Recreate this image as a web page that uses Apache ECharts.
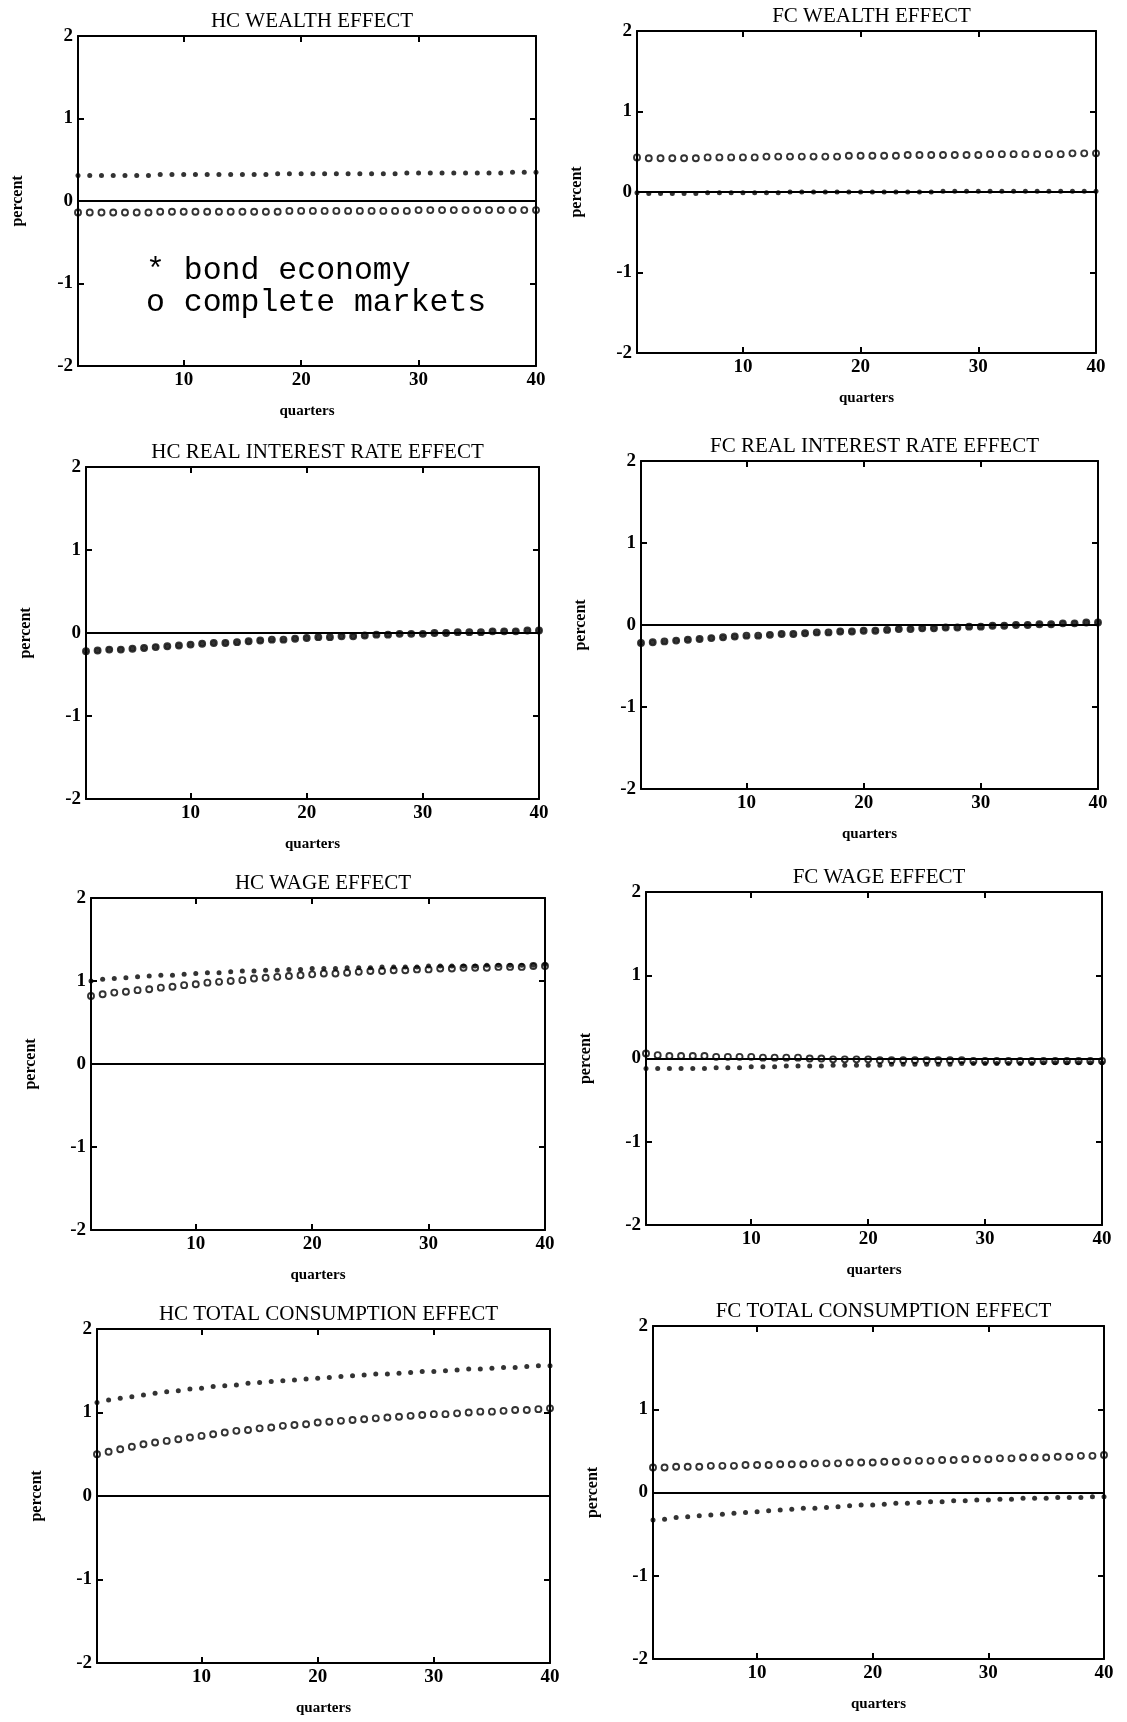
<!DOCTYPE html>
<html>
<head>
<meta charset="utf-8">
<title>Consumption effects</title>
<script src="https://cdn.jsdelivr.net/npm/echarts@6/dist/echarts.min.js"></script>
<style>
  html, body { margin: 0; padding: 0; background: #fff; }
  #chart { width: 1127px; height: 1722px; }
</style>
</head>
<body>
<div id="chart"></div>
<script>
// x: quarters after the shock
const quarters = [1, 2, 3, 4, 5, 6, 7, 8, 9, 10, 11, 12, 13, 14, 15, 16, 17, 18, 19, 20,
  21, 22, 23, 24, 25, 26, 27, 28, 29, 30, 31, 32, 33, 34, 35, 36, 37, 38, 39, 40];
const xTickValues = [10, 20, 30, 40];

const titles = [
  "HC WEALTH EFFECT", "FC WEALTH EFFECT",
  "HC REAL INTEREST RATE EFFECT", "FC REAL INTEREST RATE EFFECT",
  "HC WAGE EFFECT", "FC WAGE EFFECT",
  "HC TOTAL CONSUMPTION EFFECT", "FC TOTAL CONSUMPTION EFFECT"
];

// * bond economy / o complete markets, percent
const hcWealthBond = [0.31, 0.31, 0.31, 0.31, 0.31, 0.31, 0.31, 0.32, 0.32, 0.32, 0.32, 0.32, 0.32, 0.32, 0.32, 0.32, 0.32, 0.33, 0.33, 0.33,
  0.33, 0.33, 0.33, 0.33, 0.33, 0.33, 0.33, 0.33, 0.34, 0.34, 0.34, 0.34, 0.34, 0.34, 0.34, 0.34, 0.34, 0.35, 0.35, 0.35];
const hcWealthComplete = [-0.14, -0.14, -0.14, -0.14, -0.14, -0.14, -0.14, -0.13, -0.13, -0.13, -0.13, -0.13, -0.13, -0.13, -0.13, -0.13, -0.13, -0.13, -0.12, -0.12,
  -0.12, -0.12, -0.12, -0.12, -0.12, -0.12, -0.12, -0.12, -0.12, -0.11, -0.11, -0.11, -0.11, -0.11, -0.11, -0.11, -0.11, -0.11, -0.11, -0.11];

const fcWealthBond = [-0.01, -0.02, -0.02, -0.02, -0.02, -0.02, -0.01, -0.01, -0.01, -0.01, -0.01, -0.01, -0.01, 0, 0, 0, 0, 0, 0, 0,
  0, 0, 0, 0, 0, 0, 0.01, 0.01, 0.01, 0.01, 0.01, 0.01, 0.01, 0.01, 0.01, 0.01, 0.01, 0.01, 0.01, 0.01];
const fcWealthComplete = [0.43, 0.42, 0.42, 0.42, 0.42, 0.42, 0.43, 0.43, 0.43, 0.43, 0.43, 0.44, 0.44, 0.44, 0.44, 0.44, 0.44, 0.44, 0.45, 0.45,
  0.45, 0.45, 0.45, 0.46, 0.46, 0.46, 0.46, 0.46, 0.46, 0.46, 0.47, 0.47, 0.47, 0.47, 0.47, 0.47, 0.47, 0.48, 0.48, 0.48];

const hcRealBond = [-0.22, -0.21, -0.20, -0.20, -0.19, -0.18, -0.17, -0.16, -0.15, -0.14, -0.13, -0.12, -0.12, -0.11, -0.10, -0.09, -0.08, -0.08, -0.07, -0.06,
  -0.05, -0.05, -0.04, -0.04, -0.03, -0.02, -0.02, -0.01, -0.01, -0.01, 0, 0, 0.01, 0.01, 0.01, 0.02, 0.02, 0.02, 0.03, 0.03];
const hcRealComplete = [-0.22, -0.21, -0.20, -0.20, -0.19, -0.18, -0.17, -0.16, -0.15, -0.14, -0.13, -0.12, -0.12, -0.11, -0.10, -0.09, -0.08, -0.08, -0.07, -0.06,
  -0.05, -0.05, -0.04, -0.04, -0.03, -0.02, -0.02, -0.01, -0.01, -0.01, 0, 0, 0.01, 0.01, 0.01, 0.02, 0.02, 0.02, 0.03, 0.03];

const fcRealBond = [-0.22, -0.21, -0.20, -0.19, -0.18, -0.17, -0.16, -0.15, -0.14, -0.13, -0.13, -0.12, -0.11, -0.11, -0.10, -0.09, -0.09, -0.08, -0.08, -0.07,
  -0.07, -0.06, -0.05, -0.05, -0.04, -0.04, -0.03, -0.03, -0.02, -0.02, -0.01, -0.01, 0, 0, 0.01, 0.01, 0.02, 0.02, 0.03, 0.03];
const fcRealComplete = [-0.22, -0.21, -0.20, -0.19, -0.18, -0.17, -0.16, -0.15, -0.14, -0.13, -0.13, -0.12, -0.11, -0.11, -0.10, -0.09, -0.09, -0.08, -0.08, -0.07,
  -0.07, -0.06, -0.05, -0.05, -0.04, -0.04, -0.03, -0.03, -0.02, -0.02, -0.01, -0.01, 0, 0, 0.01, 0.01, 0.02, 0.02, 0.03, 0.03];

const hcWageBond = [1.00, 1.02, 1.03, 1.04, 1.05, 1.06, 1.07, 1.07, 1.08, 1.09, 1.10, 1.10, 1.11, 1.12, 1.12, 1.13, 1.13, 1.14, 1.14, 1.15,
  1.15, 1.15, 1.16, 1.16, 1.16, 1.17, 1.17, 1.17, 1.17, 1.18, 1.18, 1.18, 1.18, 1.18, 1.19, 1.19, 1.19, 1.19, 1.19, 1.20];
const hcWageComplete = [0.82, 0.84, 0.86, 0.87, 0.89, 0.90, 0.92, 0.93, 0.95, 0.96, 0.98, 0.99, 1.00, 1.01, 1.03, 1.04, 1.05, 1.06, 1.07, 1.08,
  1.09, 1.09, 1.10, 1.11, 1.12, 1.12, 1.13, 1.13, 1.14, 1.14, 1.15, 1.15, 1.16, 1.16, 1.16, 1.17, 1.17, 1.17, 1.18, 1.18];

const fcWageBond = [-0.12, -0.12, -0.12, -0.12, -0.12, -0.12, -0.11, -0.11, -0.11, -0.10, -0.10, -0.10, -0.09, -0.09, -0.09, -0.09, -0.08, -0.08, -0.08, -0.08,
  -0.08, -0.07, -0.07, -0.07, -0.07, -0.07, -0.07, -0.06, -0.06, -0.06, -0.06, -0.06, -0.06, -0.06, -0.05, -0.05, -0.05, -0.05, -0.05, -0.05];
const fcWageComplete = [0.06, 0.04, 0.03, 0.03, 0.03, 0.03, 0.02, 0.02, 0.02, 0.02, 0.01, 0.01, 0.01, 0.01, 0, 0, -0.01, -0.01, -0.01, -0.01,
  -0.02, -0.02, -0.02, -0.02, -0.02, -0.02, -0.02, -0.02, -0.03, -0.03, -0.03, -0.03, -0.03, -0.03, -0.03, -0.03, -0.03, -0.03, -0.03, -0.03];

const hcTotalBond = [1.12, 1.15, 1.17, 1.19, 1.21, 1.23, 1.25, 1.26, 1.28, 1.29, 1.31, 1.32, 1.33, 1.35, 1.36, 1.37, 1.38, 1.39, 1.40, 1.41,
  1.42, 1.43, 1.44, 1.45, 1.46, 1.46, 1.47, 1.48, 1.49, 1.49, 1.50, 1.51, 1.52, 1.52, 1.53, 1.54, 1.54, 1.55, 1.56, 1.56];
const hcTotalComplete = [0.50, 0.53, 0.56, 0.59, 0.62, 0.64, 0.66, 0.68, 0.70, 0.72, 0.74, 0.76, 0.78, 0.79, 0.81, 0.82, 0.84, 0.85, 0.86, 0.88,
  0.89, 0.90, 0.91, 0.92, 0.93, 0.94, 0.95, 0.96, 0.97, 0.98, 0.98, 0.99, 1.00, 1.01, 1.01, 1.02, 1.03, 1.03, 1.04, 1.05];

const fcTotalBond = [-0.33, -0.32, -0.30, -0.29, -0.28, -0.27, -0.26, -0.25, -0.24, -0.23, -0.22, -0.21, -0.20, -0.19, -0.19, -0.18, -0.17, -0.16, -0.15, -0.15,
  -0.14, -0.13, -0.13, -0.12, -0.11, -0.11, -0.10, -0.10, -0.09, -0.09, -0.08, -0.08, -0.07, -0.07, -0.07, -0.06, -0.06, -0.06, -0.05, -0.05];
const fcTotalComplete = [0.30, 0.30, 0.31, 0.31, 0.31, 0.32, 0.32, 0.32, 0.33, 0.33, 0.33, 0.34, 0.34, 0.34, 0.35, 0.35, 0.35, 0.36, 0.36, 0.36,
  0.37, 0.37, 0.38, 0.38, 0.38, 0.39, 0.39, 0.40, 0.40, 0.40, 0.41, 0.41, 0.42, 0.42, 0.42, 0.43, 0.43, 0.44, 0.44, 0.45];

const bondSeries = [hcWealthBond, fcWealthBond, hcRealBond, fcRealBond, hcWageBond, fcWageBond, hcTotalBond, fcTotalBond];
const completeSeries = [hcWealthComplete, fcWealthComplete, hcRealComplete, fcRealComplete, hcWageComplete, fcWageComplete, hcTotalComplete, fcTotalComplete];

const legendLines = ["* bond economy", "o complete markets"];

// plot boxes [left, top, width, height] in px (the scan is not quite a regular grid)
const boxes = [
  [78, 36, 458, 330], [637, 31, 459, 322],
  [86, 467, 453, 332], [641, 461, 457, 328],
  [91, 898, 454, 332], [646, 892, 456, 333],
  [97, 1329, 453, 334], [653, 1326, 451, 333]
];

const serif = "'Liberation Serif', 'DejaVu Serif', serif";
const lineStyle = { color: "#000", width: 2 };
const labelFont = { color: "#000", fontFamily: serif, fontWeight: "bold", fontSize: 19 };

const chart = echarts.init(document.getElementById("chart"));

const grid = [], xAxis = [], yAxis = [], series = [], title = [];

boxes.forEach((b, i) => {
  grid.push({ left: b[0], top: b[1], width: b[2], height: b[3] });

  title.push({
    text: titles[i],
    left: b[0] + b[2] / 2,
    top: b[1] - 30,
    textAlign: "center",
    textStyle: { color: "#000", fontFamily: serif, fontWeight: "normal", fontSize: 21 },
  });

  // bottom + top x axes, ticks inside like the original plot box
  xAxis.push({
    gridIndex: i, type: "value", min: 1, max: 40, position: "bottom",
    name: "quarters", nameLocation: "middle", nameGap: 38,
    nameTextStyle: { color: "#000", fontFamily: serif, fontWeight: "bold", fontSize: 15 },
    axisLine: { onZero: false, lineStyle },
    axisTick: { inside: true, length: 6, customValues: xTickValues.slice(0, 3), lineStyle },
    axisLabel: Object.assign({ customValues: xTickValues, margin: 5 }, labelFont),
    splitLine: { show: false },
  });
  xAxis.push({
    gridIndex: i, type: "value", min: 1, max: 40, position: "top",
    axisLine: { onZero: false, lineStyle },
    axisTick: { inside: true, length: 6, customValues: xTickValues.slice(0, 3), lineStyle },
    axisLabel: { show: false },
    splitLine: { show: false },
  });

  yAxis.push({
    gridIndex: i, type: "value", min: -2, max: 2, interval: 1, position: "left",
    name: "percent", nameLocation: "middle", nameGap: 52, nameRotate: 90,
    nameTextStyle: { color: "#000", fontFamily: serif, fontWeight: "bold", fontSize: 16 },
    axisLine: { onZero: false, lineStyle },
    axisTick: { inside: true, length: 6, lineStyle },
    axisLabel: Object.assign({ margin: 5 }, labelFont),
    splitLine: { show: false },
  });
  yAxis.push({
    gridIndex: i, type: "value", min: -2, max: 2, interval: 1, position: "right",
    axisLine: { onZero: false, lineStyle },
    axisTick: { inside: true, length: 6, lineStyle },
    axisLabel: { show: false },
    splitLine: { show: false },
  });

  series.push({
    name: "complete markets",
    type: "scatter",
    xAxisIndex: 2 * i, yAxisIndex: 2 * i,
    data: quarters.map((q, k) => [q, completeSeries[i][k]]),
    symbol: "circle",
    symbolSize: 6,
    clip: false,
    itemStyle: { color: "transparent", borderColor: "#000", borderWidth: 1.9 },
    markLine: {
      silent: true,
      symbol: ["none", "none"],
      label: { show: false },
      lineStyle: { color: "#000", width: 1.8, type: "solid" },
      data: [{ yAxis: 0 }],
    },
  });
  series.push({
    name: "bond economy",
    type: "scatter",
    xAxisIndex: 2 * i, yAxisIndex: 2 * i,
    data: quarters.map((q, k) => [q, bondSeries[i][k]]),
    symbol: "circle",
    symbolSize: 5,
    clip: false,
    itemStyle: { color: "#000" },
  });
});

chart.setOption({
  backgroundColor: "#fff",
  animation: false,
  title,
  grid,
  xAxis,
  yAxis,
  series,
  graphic: [{
    type: "text",
    left: 146,
    top: 255,
    style: {
      text: legendLines.join("\n"),
      font: "31.5px 'Liberation Mono', 'DejaVu Sans Mono', monospace",
      lineHeight: 32,
      fill: "#000",
    },
  }],
});

window.addEventListener("resize", () => chart.resize());
</script>
</body>
</html>
